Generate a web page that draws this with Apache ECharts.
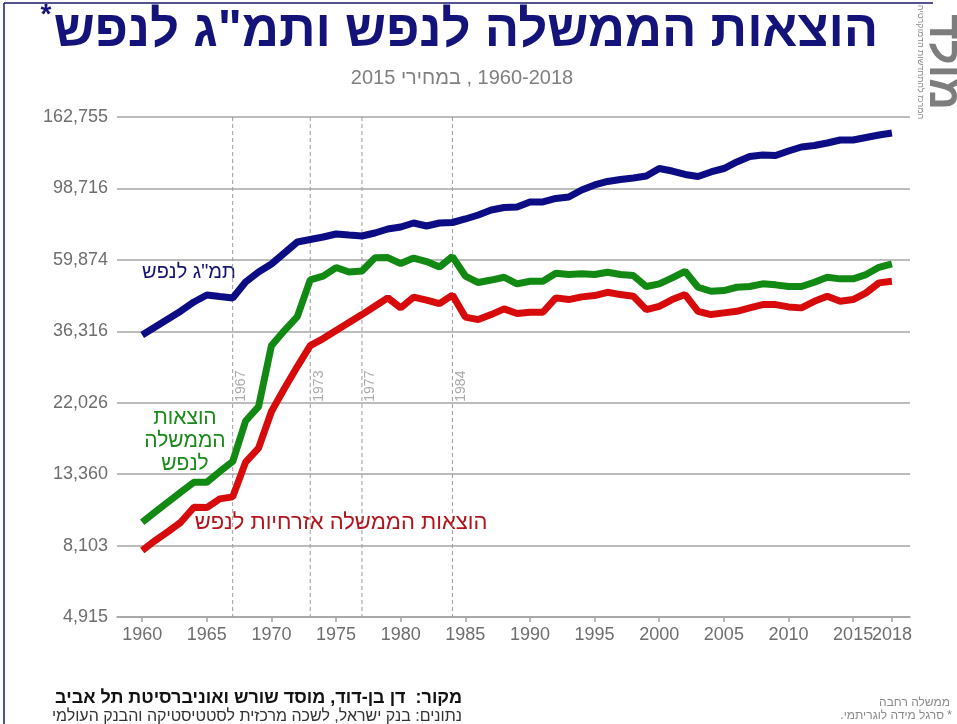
<!DOCTYPE html>
<html><head><meta charset="utf-8">
<script src="https://cdn.jsdelivr.net/npm/echarts@6/dist/echarts.min.js"></script>
<style>html,body{margin:0;padding:0;background:#fff}#c{width:957px;height:724px}</style>
</head><body><div id="c" dir="rtl"></div>
<script>
// ---- data ----
const years = [1960,1961,1962,1963,1964,1965,1966,1967,1968,1969,
  1970,1971,1972,1973,1974,1975,1976,1977,1978,1979,
  1980,1981,1982,1983,1984,1985,1986,1987,1988,1989,
  1990,1991,1992,1993,1994,1995,1996,1997,1998,1999,
  2000,2001,2002,2003,2004,2005,2006,2007,2008,2009,
  2010,2011,2012,2013,2014,2015,2016,2017,2018];
const gdpPerCapita = [35390,37420,39580,41860,44580,46830,46330,45850,51290,55000,
  58170,62830,67850,69050,70260,71760,71250,70750,72260,74310,
  75360,77500,75890,77500,77770,79700,81960,84880,86380,86680,
  89780,89780,92000,92970,97640,101120,103630,105080,106200,107700,
  113490,111520,108830,107320,110760,113490,118780,123430,124740,124310,
  128280,131930,133310,135670,138550,138550,141000,143490,145500];
const govPerCapita = [9539,10245,10988,11784,12620,12620,13602,14589,19378,21418,
  32855,36494,40252,52054,53456,56730,54970,55360,60720,60840,
  58340,60630,59170,56930,61270,53456,51080,51980,53010,50620,
  51550,51550,54520,54020,54280,54020,54900,54020,53640,49670,
  50620,52790,55280,49430,48060,48290,49430,49670,50620,50260,
  49670,49670,51190,53010,52420,52420,54020,56850,58220];
const civPerCapita = [7824,8391,8938,9552,10595,10572,11236,11394,14530,16027,
  20711,24328,28367,32855,34508,36494,38597,40820,43260,45882,
  42780,46140,45180,44090,46790,40110,39414,40820,42482,41106,
  41484,41484,45882,45337,46205,46626,47716,46953,46397,42272,
  43260,45337,46953,41774,40820,41310,41774,42780,43779,43779,
  43078,42780,44803,46397,44803,45337,47516,50962,51537];
const eventYears = [1967,1973,1977,1984];
const xTickLabels = [1960,1965,1970,1975,1980,1985,1990,1995,2000,2005,2010,2015];
const xLastLabel = [2018];
// y ticks: 4,915 8,103 13,360 22,026 36,316 59,874 98,716 162,755 (e^8.5 ... e^12)

const Y_MIN = Math.exp(8.5), Y_MAX = Math.exp(12), LABEL_ANCHOR = Math.exp(10);
const X_MIN = 1958.05, X_MAX = 2019.4;
const FONT = '"Liberation Sans", "DejaVu Sans", Arial, sans-serif';

const pairs = arr => years.map((y, i) => [y, arr[i]]);

const xAxisBase = (vals, showLine) => ({
  type: 'value', min: X_MIN, max: X_MAX, position: 'bottom',
  axisLine: {show: showLine, lineStyle: {color: '#a3a3a3', width: 1.5}},
  axisTick: {show: true, customValues: vals, length: 5, lineStyle: {color: '#a3a3a3', width: 1.5}},
  axisLabel: {customValues: vals, color: '#6e6e6e', fontSize: 18, fontFamily: FONT, margin: 9,
    showMaxLabel: true, showMinLabel: true, formatter: v => String(v)},
  splitLine: {show: false}
});

const chart = echarts.init(document.getElementById('c'), null, {renderer: 'canvas'});
chart.setOption({
  backgroundColor: '#ffffff',
  animation: false,
  grid: {left: 117, right: 47, top: 117, bottom: 107, containLabel: false},
  xAxis: [xAxisBase(xTickLabels, true), xAxisBase(xLastLabel, false)],
  yAxis: {
    type: 'log', logBase: Math.E, min: Y_MIN, max: Y_MAX, interval: 0.5,
    axisLine: {show: false}, axisTick: {show: false},
    axisLabel: {color: '#6e6e6e', fontSize: 18, fontFamily: FONT, margin: 9,
      formatter: v => Math.round(v).toLocaleString('en-US')},
    splitLine: {show: true, lineStyle: {color: '#a6a6a6', width: 1.5}}
  },
  series: [
    {
      type: 'custom', silent: true, z: 1, xAxisIndex: 0,
      data: eventYears.map(y => [y]),
      encode: {x: 0},
      renderItem: (params, api) => {
        const x = api.value(0);
        const top = api.coord([x, Y_MAX]);
        const bot = api.coord([x, Y_MIN]);
        const lab = api.coord([x, LABEL_ANCHOR]);
        return {type: 'group', children: [
          {type: 'line', shape: {x1: top[0], y1: top[1], x2: bot[0], y2: bot[1]},
           style: {stroke: '#9c9c9c', lineWidth: 1, lineDash: [4, 3]}},
          {type: 'text', x: lab[0] + 1.5, y: lab[1] - 1, rotation: Math.PI / 2,
           style: {text: String(x), fill: '#ababab', font: '14px ' + FONT,
                   textAlign: 'left', textVerticalAlign: 'top', align: 'left', verticalAlign: 'top'}}
        ]};
      }
    },
    {name: 'gdp', type: 'line', xAxisIndex: 0, data: pairs(gdpPerCapita), showSymbol: false, symbol: 'none', z: 3,
     lineStyle: {color: '#0c0c84', width: 7}},
    {name: 'gov', type: 'line', xAxisIndex: 0, data: pairs(govPerCapita), showSymbol: false, symbol: 'none', z: 3,
     lineStyle: {color: '#128912', width: 7}},
    {name: 'civ', type: 'line', xAxisIndex: 0, data: pairs(civPerCapita), showSymbol: false, symbol: 'none', z: 3,
     lineStyle: {color: '#d70b0b', width: 7}}
  ],
  graphic: [
    // frame
    {type: 'line', shape: {x1: 4, y1: 3, x2: 933, y2: 3}, style: {stroke: '#1a1a6e', lineWidth: 1.5}},
    {type: 'line', shape: {x1: 4, y1: 3, x2: 4, y2: 724}, style: {stroke: '#1a1a6e', lineWidth: 1.5}},
    // title
    {type: 'text', x: 466, y: 32, style: {text: 'הוצאות הממשלה לנפש ותמ"ג לנפש', fill: '#13137a',
      font: 'bold 51px ' + FONT, align: 'center', verticalAlign: 'middle'}},
    {type: 'text', x: 46, y: 15, style: {text: '*', fill: '#13137a', font: 'bold 28px ' + FONT, align: 'center', verticalAlign: 'middle'}},
    // subtitle
    {type: 'text', x: 462, y: 78, style: {text: '1960-2018 , במחירי 2015', fill: '#808080',
      font: '20px ' + FONT, align: 'center', verticalAlign: 'middle'}},
    // series annotations
    {type: 'text', x: 189, y: 272, style: {text: 'תמ"ג לנפש', fill: '#151570', font: '20px ' + FONT, align: 'center', verticalAlign: 'middle'}},
    {type: 'text', x: 185, y: 441, style: {text: 'הוצאות\nהממשלה\nלנפש', fill: '#1a8a1a', font: '21px ' + FONT,
      align: 'center', verticalAlign: 'middle', lineHeight: 23}},
    {type: 'text', x: 341, y: 523, style: {text: 'הוצאות הממשלה אזרחיות לנפש', fill: '#b3141c', font: '22px ' + FONT, align: 'center', verticalAlign: 'middle'}},
    // footer
    {type: 'text', x: 462, y: 698, style: {text: 'מקור:  דן בן-דוד, מוסד שורש ואוניברסיטת תל אביב', fill: '#111111',
      font: 'bold 18px ' + FONT, align: 'right', verticalAlign: 'middle'}},
    {type: 'text', x: 462, y: 717, style: {text: 'נתונים: בנק ישראל, לשכה מרכזית לסטטיסטיקה והבנק העולמי', fill: '#333333',
      font: '16px ' + FONT, align: 'right', verticalAlign: 'middle'}},
    {type: 'text', x: 950, y: 703, style: {text: 'ממשלה רחבה', fill: '#8a8a8a', font: '12px ' + FONT, align: 'right', verticalAlign: 'middle'}},
    {type: 'text', x: 952, y: 716, style: {text: '* סרגל מידה לוגריתמי.', fill: '#8a8a8a', font: '12px ' + FONT, align: 'right', verticalAlign: 'middle'}},
    // logo
    {type: 'text', x: 942, y: 62, rotation: -Math.PI / 2, style: {text: 'מולד', fill: '#7d7d7d', font: 'bold 44px ' + FONT, align: 'center', verticalAlign: 'middle'}},
    {type: 'text', x: 920, y: 62, rotation: -Math.PI / 2, style: {text: 'המרכז להתחדשות הדמוקרטיה', fill: '#8a8a8a', font: '9px ' + FONT, align: 'center', verticalAlign: 'middle'}}
  ]
});
</script></body></html>
